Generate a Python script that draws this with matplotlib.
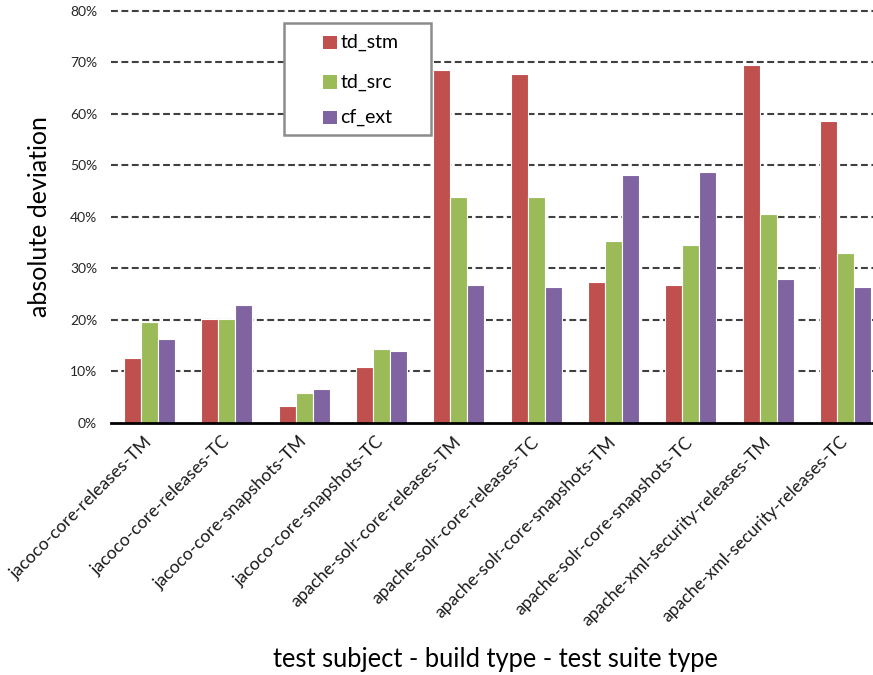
import matplotlib
matplotlib.use("Agg")
import matplotlib.pyplot as plt
from matplotlib.patches import Rectangle
import numpy as np

categories = [
    "jacoco-core-releases-TM",
    "jacoco-core-releases-TC",
    "jacoco-core-snapshots-TM",
    "jacoco-core-snapshots-TC",
    "apache-solr-core-releases-TM",
    "apache-solr-core-releases-TC",
    "apache-solr-core-snapshots-TM",
    "apache-solr-core-snapshots-TC",
    "apache-xml-security-releases-TM",
    "apache-xml-security-releases-TC",
]
td_stm = [12.6, 20.1, 3.2, 10.8, 68.5, 67.8, 27.3, 26.8, 69.5, 58.6]
td_src = [19.6, 20.1, 5.7, 14.4, 43.9, 43.9, 35.3, 34.5, 40.6, 32.9]
cf_ext = [16.2, 22.8, 6.5, 13.9, 26.8, 26.4, 48.2, 48.7, 27.9, 26.4]
series_names = ["td_stm", "td_src", "cf_ext"]
colors = ["#C0504D", "#9BBB59", "#8064A2"]
y_ticks = [0, 10, 20, 30, 40, 50, 60, 70, 80]

plt.rcParams["font.family"] = ["Lato", "DejaVu Sans"]

W, H = 873, 675
fig = plt.figure(figsize=(W / 100, H / 100), dpi=100)
ax = fig.add_axes([111 / W, (H - 422.7) / H, (W - 111) / W, 411.7 / H])

x = np.arange(len(categories))
bw = 0.22
for i, (vals, c) in enumerate(zip([td_stm, td_src, cf_ext], colors)):
    ax.bar(x + (i - 1) * bw, vals, width=bw, color=c, edgecolor="white",
           linewidth=0.8, zorder=3)

ax.set_ylim(0, 80)
ax.set_xlim(-0.5, 9.5 - 11 / 77.3)
ax.set_yticks(y_ticks)
ax.set_yticklabels([f"{t}%" for t in y_ticks], fontsize=10, color="#262626")
for t in y_ticks[1:]:
    ax.axhline(t, color="#404040", linewidth=1.5, linestyle=(0, (3.3, 1.7)),
               zorder=1, clip_on=False)

for s in ["top", "right", "left"]:
    ax.spines[s].set_visible(False)
ax.spines["bottom"].set_linewidth(2)
ax.spines["bottom"].set_color("black")
ax.spines["bottom"].set_zorder(4)
ax.tick_params(axis="y", length=0, pad=10)
ax.tick_params(axis="x", length=0, pad=12)

ax.set_xticks(x)
ax.set_xticklabels(categories, rotation=45, ha="right", va="center",
                   rotation_mode="anchor", fontsize=12.7, color="#1a1a1a")

fig.text(40 / W, (H - 217) / H, "absolute deviation", rotation=90,
         ha="center", va="center", fontsize=18, color="black")
fig.text(495 / W, (H - 659) / H, "test subject - build type - test suite type",
         ha="center", va="center", fontsize=18.4, color="black")

# legend box
def fx(px):
    return px / W

def fy(py):
    return (H - py) / H

fig.patches.append(Rectangle((fx(284), fy(135)), fx(431) - fx(284), fy(23) - fy(135),
                             transform=fig.transFigure, facecolor="white",
                             edgecolor="#8c8c8c", linewidth=1.8, zorder=5))
rows = [42.5, 82, 117.5]
for name, c, yc in zip(series_names, colors, rows):
    fig.patches.append(Rectangle((fx(323.3), fy(yc + 6.7)), fx(13.4), 13.4 / H,
                                 transform=fig.transFigure, facecolor=c,
                                 edgecolor="none", zorder=6))
    fig.text(fx(340.5), fy(yc), name, ha="left", va="center", fontsize=14,
             color="black", zorder=7)

fig.savefig("out.png", dpi=100)
